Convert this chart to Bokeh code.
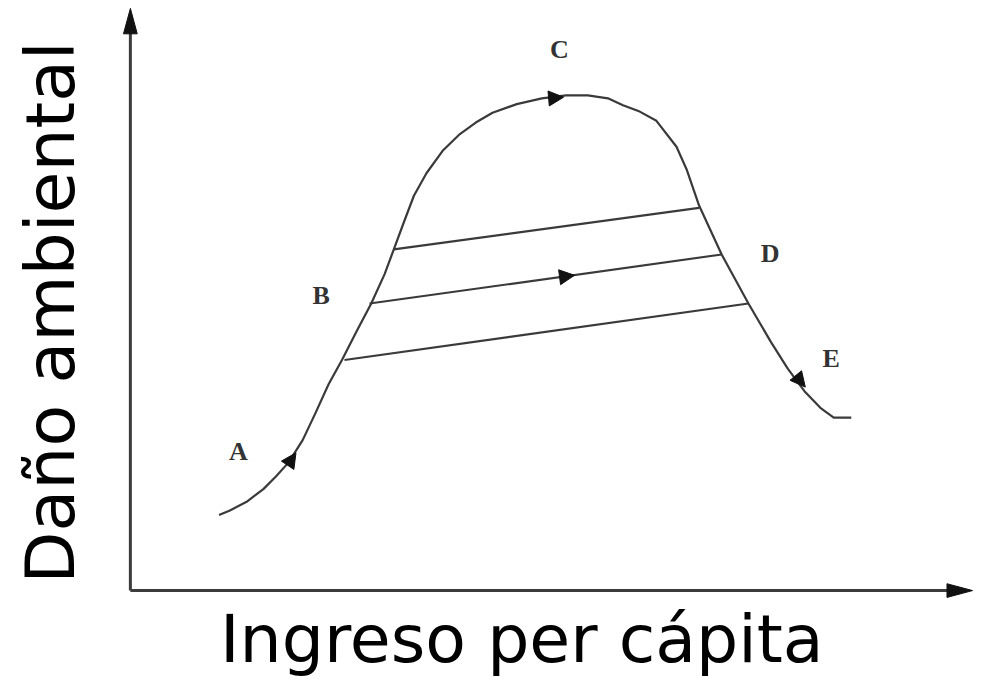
import math
from bokeh.plotting import figure
from bokeh.models import Range1d, Arrow, NormalHead, ColumnDataSource
from bokeh.core.properties import value
from bokeh.embed import file_html
from bokeh.resources import INLINE

# ---- data (income per capita vs environmental damage, arbitrary units) ----
curve_x = [1.06, 1.19, 1.39, 1.59, 1.74, 1.89, 2.06, 2.21, 2.37, 2.53, 2.71, 2.88,
           3.04, 3.15, 3.27, 3.39, 3.54, 3.74, 3.94, 4.13, 4.33, 4.62, 4.92, 5.21,
           5.47, 5.71, 5.89, 6.09, 6.29, 6.53, 6.65, 6.80, 7.07, 7.39, 7.66, 7.86,
           8.06, 8.25, 8.41, 8.62]
curve_y = [1.31, 1.39, 1.54, 1.76, 1.98, 2.22, 2.61, 3.07, 3.58, 4.00, 4.51, 4.98,
           5.49, 5.92, 6.39, 6.85, 7.24, 7.64, 7.92, 8.12, 8.29, 8.44, 8.54, 8.59,
           8.59, 8.54, 8.42, 8.31, 8.15, 7.70, 7.31, 6.68, 5.83, 4.98, 4.31, 3.85,
           3.46, 3.17, 3.00, 3.00]

# three "tunnel" lines between the rising and falling branches
tunnel_x0 = [3.15, 2.86, 2.56]
tunnel_y0 = [5.92, 4.98, 4.00]
tunnel_x1 = [6.80, 7.07, 7.39]
tunnel_y1 = [6.64, 5.83, 4.98]

# direction arrows (start -> tip)
arrow_xs = [1.80, 4.86, 4.94, 7.86]
arrow_ys = [2.00, 8.52, 5.40, 3.90]
arrow_xe = [1.98, 5.18, 5.31, 8.07]
arrow_ye = [2.39, 8.56, 5.47, 3.53]

# stage labels
stage_labels = ["A", "B", "C", "D", "E"]
stage_x = [1.29, 2.28, 5.13, 7.65, 8.38]
stage_y = [2.41, 5.12, 9.39, 5.85, 4.02]

x_title = "Ingreso per cápita"
y_title = "Daño ambiental"

x_axis_end = 10.07
y_axis_end = 10.10

# ---- layout ----
REF_W, REF_H = 995, 694      # reference picture size
W, H = 979, 678              # canvas size (fits window with 8px margin)
SX, SY = 85.0, 59.0          # reference pixels per data unit
OX, OY = 132.0, 604.0        # reference pixel position of the origin
x_range = Range1d(-OX / SX, (REF_W - OX) / SX)
y_range = Range1d((OY - REF_H) / SY, OY / SY)

p = figure(width=W, height=H, x_range=x_range, y_range=y_range,
           x_axis_type=None, y_axis_type=None, min_border=0,
           output_backend="svg", toolbar_location=None)
p.grid.visible = False
p.outline_line_color = None
p.background_fill_color = "white"

axis_color = "#3c3c3c"
head_len, head_half = 26.0, 7.0
p.segment(x0=[0, 0], y0=[0, 0],
          x1=[x_axis_end - head_len / SX * 0.8, 0], y1=[0, y_axis_end - head_len / SY * 0.8],
          line_color=axis_color, line_width=3)
p.patches(xs=[[x_axis_end, x_axis_end - head_len / SX, x_axis_end - head_len / SX],
              [0, -head_half / SX, head_half / SX]],
          ys=[[0, head_half / SY, -head_half / SY],
              [y_axis_end, y_axis_end - head_len / SY, y_axis_end - head_len / SY]],
          fill_color="#111111", line_color="#111111", line_width=1)

curve_color = "#3a3a3a"
p.line(curve_x, curve_y, line_color=curve_color, line_width=2.2, line_join="round")
p.segment(x0=tunnel_x0, y0=tunnel_y0, x1=tunnel_x1, y1=tunnel_y1,
          line_color=curve_color, line_width=2.2)

arrow_src = ColumnDataSource(dict(xs=arrow_xs, ys=arrow_ys, xe=arrow_xe, ye=arrow_ye))
p.add_layout(Arrow(end=NormalHead(size=15, fill_color="#111111", line_color="#111111"),
                   x_start="xs", y_start="ys", x_end="xe", y_end="ye",
                   source=arrow_src, line_color=None, line_width=0))

p.text(x=stage_x, y=stage_y, text=stage_labels,
       text_font=value("Liberation Serif"), text_font_style="bold",
       text_font_size="26px", text_color="#333333",
       text_align="center", text_baseline="middle")

p.text(x=[(223 - OX) / SX], y=[(OY - 654) / SY], text=[x_title],
       text_font=value("DejaVu Sans"), text_font_size="66.5px", text_color="black",
       text_align="left", text_baseline="alphabetic")

p.text(x=[(51 - OX) / SX], y=[(OY - 597) / SY], text=[y_title], angle=math.pi / 2,
       text_font=value("DejaVu Sans"), text_font_size="68px", text_color="black",
       text_align="left", text_baseline="alphabetic")

open("out.html", "w").write(file_html(p, INLINE))
